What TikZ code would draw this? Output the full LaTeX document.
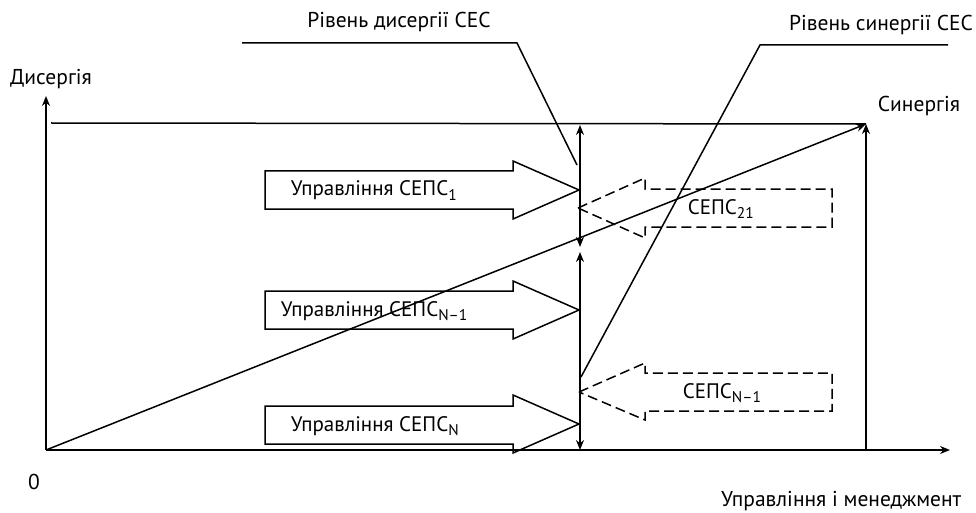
\documentclass[tikz,border=0pt]{standalone}
\usepackage{fontspec}
\setmainfont{PT Sans}
\usetikzlibrary{arrows.meta}
\newcommand\subtx[1]{\raisebox{-0.45ex}{\fontsize{15.5}{15.5}\selectfont #1}}
\begin{document}
\begin{tikzpicture}[x=1pt,y=-1pt, line width=1.5pt, line join=miter,
  tip/.style={-{Stealth[length=10pt,width=8pt]}},
  dtip/.style={{Stealth[length=10pt,width=8pt]}-{Stealth[length=10pt,width=8pt]}},
  lbl/.style={font=\fontsize{21}{24}\selectfont, inner sep=0pt, anchor=base west},
  olbl/.style={font=\fontsize{21.5}{24}\selectfont, inner sep=0pt, anchor=base},
  dashedbox/.style={dash pattern=on 10pt off 5pt}]
\useasboundingbox (0,0) rectangle (976,513);
% axes
\coordinate (O) at (46,450);
\coordinate (Ytop) at (46,96);
\coordinate (Xend) at (950,450);
\coordinate (S) at (866,124);
\coordinate (Sb) at (866,450);
\coordinate (TL) at (51,123);
\draw[tip] (O) -- (Ytop);
\draw[tip] (O) -- (Xend);
\draw (TL) -- (S);
\draw[tip] (O) -- (S);
\draw[tip] (Sb) -- (S);
% vertical double arrows
\coordinate (V1) at (580,125);
\coordinate (V2) at (580,247);
\coordinate (V3) at (580,252);
\coordinate (V4) at (580,450);
\draw[dtip] (V1) -- (V2);
\draw[dtip] (V3) -- (V4);
% block arrows
\draw (265,171) -- (513,171) -- (513,161) -- (579,190) -- (513,219) -- (513,209) -- (265,209) -- cycle;
\draw (265,291) -- (513,291) -- (513,281) -- (579,310) -- (513,339) -- (513,329) -- (265,329) -- cycle;
\draw (265,406) -- (513,406) -- (513,395) -- (579,424) -- (513,453) -- (513,444) -- (265,444) -- cycle;
\node[lbl] (a1) at (290,196) {Управління СЕПС\subtx{1}};
\node[lbl] (a2) at (280,316) {Управління СЕПС\subtx{N–1}};
\node[lbl] (a3) at (290,431) {Управління СЕПС\subtx{N}};
% dashed arrows
\draw[dashedbox] (578,208) -- (645,178) -- (645,189) -- (832,189) -- (832,227) -- (645,227) -- (645,238) -- cycle;
\draw[dashedbox] (579,392) -- (645,363) -- (645,373) -- (832,373) -- (832,411) -- (645,411) -- (645,420) -- cycle;
\node[lbl] (d1) at (687,214) {СЕПС\subtx{21}};
\node[lbl] (d2) at (682,398) {СЕПС\subtx{N–1}};
% pointer lines
\coordinate (P1a) at (242,43);
\coordinate (P1b) at (517,43);
\coordinate (P1c) at (577,165);
\coordinate (P2a) at (948,45);
\coordinate (P2b) at (760,45);
\coordinate (P2c) at (581,377);
\draw (P1a) -- (P1b) -- (P1c);
\draw (P2a) -- (P2b) -- (P2c);
\node[olbl] (t1) at (399,28) {Рівень дисергії СЕС};
\node[olbl] (t2) at (881,31) {Рівень синергії СЕС};
\node[olbl] (dy) at (51,85) {Дисергія};
\node[olbl] (sy) at (919,112) {Синергія};
\node[olbl] (zero) at (34,489) {0};
\node[olbl, anchor=base east] (xl) at (962,506) {Управління і менеджмент};
\end{tikzpicture}
\end{document}
